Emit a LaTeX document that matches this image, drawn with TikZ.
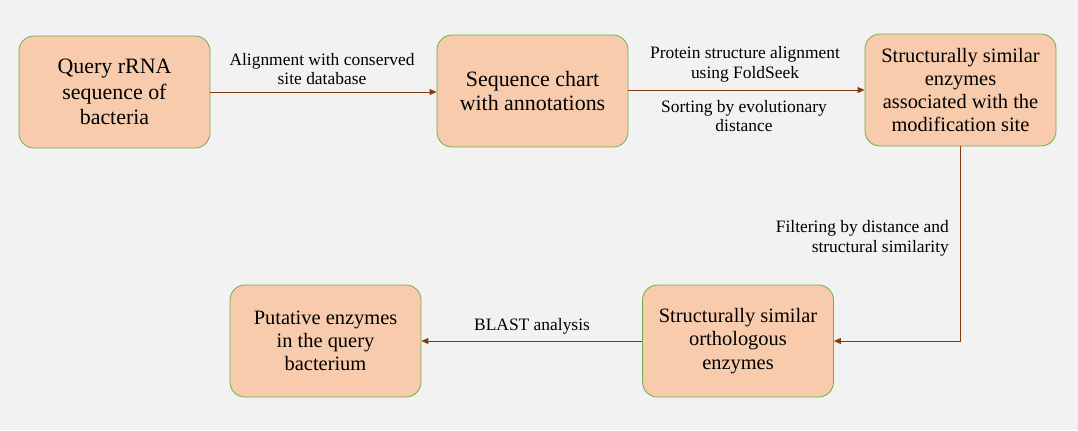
\documentclass[tikz,border=0pt]{standalone}
\usepackage{fontspec}
\setmainfont{Liberation Serif}
\usetikzlibrary{arrows.meta}
\definecolor{bg}{HTML}{F2F2F2}
\definecolor{boxfill}{HTML}{F8CBAD}
\definecolor{boxline}{HTML}{70AD47}
\definecolor{arr}{HTML}{843C0C}
\tikzset{
  x=1bp, y=-1bp,
  procbox/.style={draw=boxline, line width=0.8bp, fill=boxfill, rounded corners=15bp,
    minimum width=191bp, minimum height=112bp, align=center, inner sep=2bp,
    font=\fontsize{20.5}{23.2}\selectfont},
  flow/.style={draw=arr, line width=0.9bp, -{Triangle[length=7bp,width=6bp]}},
  lbl/.style={align=center, inner sep=0pt, font=\fontsize{17.5}{20}\selectfont},
}
\begin{document}
\begin{tikzpicture}
\fill[bg] (0,0) rectangle (1078,430);
\useasboundingbox (0,0) rectangle (1078,430);
\node[procbox, font=\fontsize{22}{25.5}\selectfont] (b1) at (114.5,92) {Query rRNA\\sequence of\\bacteria};
\node[procbox, font=\fontsize{22}{24.5}\selectfont] (b2) at (532.5,91) {Sequence chart\\with annotations};
\node[procbox] (b3) at (960.5,90) {Structurally similar\\enzymes\\associated with the\\modification site};
\node[procbox] (b4) at (738,341) {Structurally similar\\orthologous\\enzymes};
\node[procbox] (b5) at (325.5,341) {Putative enzymes\\in the query\\bacterium};
\draw[flow] (b1.east |- 0,92) -- (b2.west |- 0,92);
\draw[flow] (b2.east |- 0,90) -- (b3.west |- 0,90);
\draw[flow] (b3.south) |- (b4.east);
\draw[flow] (b4.west) -- (b5.east);
\node[lbl] (l1) at (322,69) {Alignment with conserved\\site database};
\node[lbl] (l2) at (745,64) {Protein structure alignment\\using FoldSeek};
\node[lbl] (l3) at (744,116) {Sorting by evolutionary\\distance};
\node[lbl, align=right, anchor=east] (l4) at (949,238) {Filtering by distance and\\structural similarity};
\node[lbl] (l5) at (532,326) {BLAST analysis};
\end{tikzpicture}
\end{document}
